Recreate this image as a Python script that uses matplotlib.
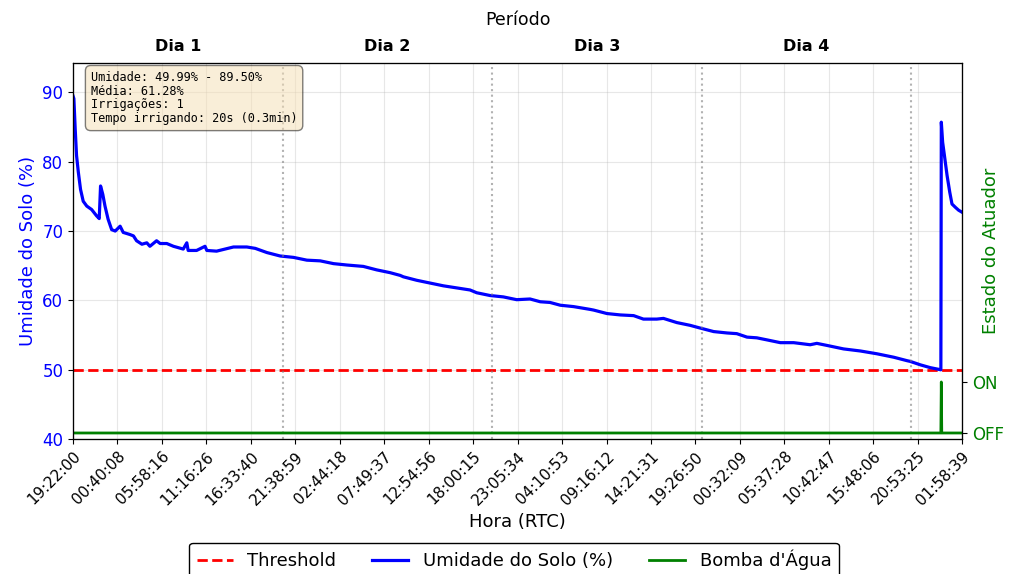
import matplotlib
matplotlib.use("Agg")
import matplotlib.pyplot as plt
import numpy as np

# leituras do sensor (indice da amostra, umidade %)
amostra = [0, 2, 5, 8, 12, 17, 23, 31, 42, 53, 59, 62, 67, 72, 79, 87, 95, 106, 113,
           128, 136, 143, 155, 166, 173, 188, 196, 211, 226, 248, 256, 259, 278, 297,
           301, 323, 361, 391, 410, 436, 466, 496, 526, 556, 586, 616, 653, 683, 713,
           736, 743, 773, 803, 833, 863, 893, 908, 938, 968, 998, 1028, 1051, 1073,
           1096, 1126, 1163, 1171, 1201, 1231, 1261, 1283, 1313, 1328, 1358, 1388,
           1411, 1441, 1471, 1493, 1516, 1538, 1561, 1591, 1621, 1658, 1673, 1696,
           1733, 1771, 1808, 1846, 1876, 1883, 1906, 1928, 1952, 1953, 1956, 1960,
           1966, 1972, 1977, 1985, 1992, 2000]
umidade = [89.5, 89.1, 84.7, 80.9, 78.5, 76.0, 74.3, 73.6, 73.1, 72.2, 71.8, 76.5, 75.3,
           73.6, 71.7, 70.2, 70.0, 70.7, 69.8, 69.5, 69.3, 68.6, 68.1, 68.3, 67.8, 68.6,
           68.2, 68.2, 67.8, 67.4, 68.3, 67.2, 67.2, 67.8, 67.2, 67.1, 67.7, 67.7, 67.5,
           66.9, 66.4, 66.2, 65.8, 65.7, 65.3, 65.1, 64.9, 64.4, 64.0, 63.6, 63.4, 62.9,
           62.5, 62.1, 61.8, 61.5, 61.1, 60.7, 60.5, 60.1, 60.2, 59.8, 59.7, 59.3, 59.1,
           58.7, 58.6, 58.1, 57.9, 57.8, 57.3, 57.3, 57.4, 56.8, 56.4, 56.0, 55.5, 55.3,
           55.2, 54.7, 54.6, 54.3, 53.9, 53.9, 53.6, 53.8, 53.5, 53.0, 52.7, 52.3, 51.8,
           51.3, 51.2, 50.7, 50.3, 49.99, 85.7, 82.8, 80.9, 78.0, 75.6, 73.9, 73.4, 73.0,
           72.7]

# bomba: desligada, liga numa unica amostra
bomba_idx = [0, 1952, 1953, 1954, 2000]
bomba = [0, 0, 1, 0, 0]

threshold = 50
n_total = 2000

horas = ["19:22:00", "00:40:08", "05:58:16", "11:16:26", "16:33:40", "21:38:59",
         "02:44:18", "07:49:37", "12:54:56", "18:00:15", "23:05:34", "04:10:53",
         "09:16:12", "14:21:31", "19:26:50", "00:32:09", "05:37:28", "10:42:47",
         "15:48:06", "20:53:25", "01:58:39"]
dias = ["Dia 1", "Dia 2", "Dia 3", "Dia 4"]
fim_dia = [472, 943, 1414, 1885]

fig, ax = plt.subplots(figsize=(10.28, 5.74), dpi=100)
fig.subplots_adjust(left=0.071, right=0.936, bottom=0.235, top=0.891)

l_thr = ax.axhline(threshold, color="red", linestyle="--", linewidth=2, label="Threshold")
l_um, = ax.plot(amostra, umidade, color="blue", linewidth=2.3, label="Umidade do Solo (%)")

for d in fim_dia:
    ax.axvline(d, color="gray", linestyle=":", linewidth=1.5, alpha=0.6)

ax.set_xlim(0, n_total)
ax.set_ylim(min(umidade) - 10, max(umidade) + 5 - 0.2)
ax.set_xticks(np.linspace(0, n_total, len(horas)))
ax.set_xticklabels(horas, rotation=45, ha="right", rotation_mode="anchor", fontsize=11)
ax.set_xlabel("Hora (RTC)", fontsize=13)
ax.set_ylabel("Umidade do Solo (%)", color="blue", fontsize=13)
ax.tick_params(axis="y", labelcolor="blue", labelsize=12)
ax.grid(True, alpha=0.3)

ax2 = ax.twinx()
l_bomba, = ax2.plot(bomba_idx, bomba, color="green", linewidth=2, label="Bomba d'Água")
ax2.set_ylim(-0.12, 7.26)
ax2.set_yticks([0, 1])
ax2.set_yticklabels(["OFF", "ON"])
ax2.tick_params(axis="y", labelcolor="green", labelsize=12)
ax2.set_ylabel("Estado do Atuador", color="green", fontsize=13)
ax2.yaxis.set_label_coords(1.022, 0.5)

ax3 = ax.twiny()
ax3.set_xlim(ax.get_xlim())
inicios = [0] + fim_dia[:-1]
meios = [(a + b) / 2 for a, b in zip(inicios, fim_dia)]
ax3.set_xticks(meios)
ax3.set_xticklabels(dias, fontweight="bold", fontsize=11.5)
ax3.tick_params(axis="x", length=0, pad=6)
ax3.set_xlabel("Período", fontsize=12.5, labelpad=10)

texto = ("Umidade: 49.99% - 89.50%\n"
         "Média: 61.28%\n"
         "Irrigações: 1\n"
         "Tempo irrigando: 20s (0.3min)")
ax.text(0.02, 0.978, texto, transform=ax.transAxes, fontsize=8.6, family="monospace",
        va="top", linespacing=1.08,
        bbox=dict(boxstyle="round,pad=0.45", facecolor="wheat", alpha=0.5))

fig.legend([l_thr, l_um, l_bomba], [h.get_label() for h in [l_thr, l_um, l_bomba]],
           loc="lower center", bbox_to_anchor=(0.5, -0.022), ncol=3, fontsize=13,
           framealpha=1, edgecolor="black")

fig.savefig("out.png", dpi=100)
